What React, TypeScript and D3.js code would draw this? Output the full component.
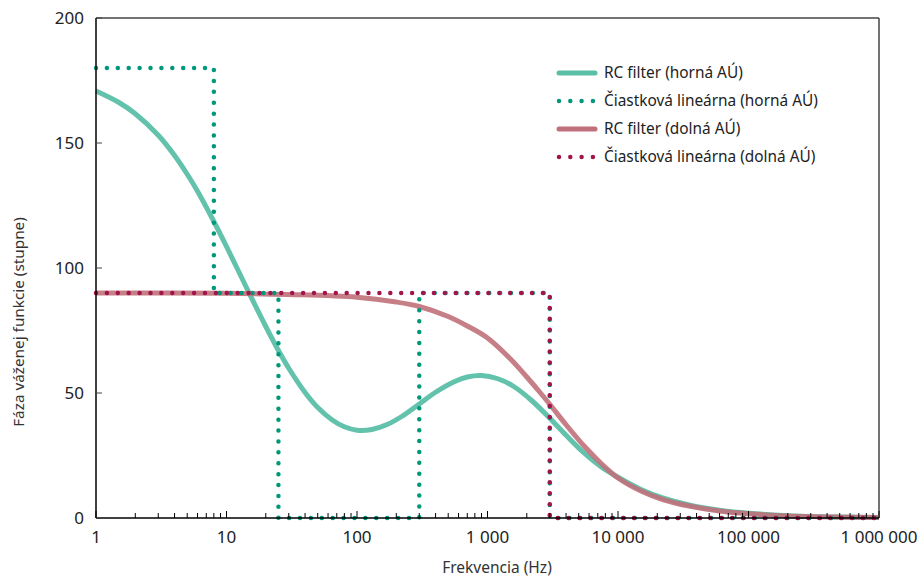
import React from "react";
import * as d3 from "d3";

const W = 920;
const H = 577;
const M = { left: 96, right: 41, top: 18, bottom: 59 };

const xTicks = [1, 10, 100, 1000, 10000, 100000, 1000000];
const xTickLabels = ["1", "10", "100", "1 000", "10 000", "100 000", "1 000 000"];
const yTicks = [0, 50, 100, 150, 200];

// RC filter (horná AÚ)
const greenRcFreq = [1, 1.5, 2, 3, 4, 5, 6, 8, 10, 12, 15, 20, 25, 30, 40, 50, 65, 80, 100, 130, 170, 220, 300, 400, 550, 700, 900, 1200, 1600, 2200, 3000, 4000, 5500, 7500, 10000, 15000, 22000, 35000, 60000, 100000, 200000, 500000, 1000000];
const greenRcPhase = [170.8, 166.2, 161.7, 153.1, 145, 137.5, 130.7, 118.6, 108.6, 100.1, 89.7, 76.6, 67, 59.9, 50.2, 44.2, 39.1, 36.5, 35.1, 35.4, 37.4, 40.6, 45.6, 50.3, 54.4, 56.4, 57, 55.7, 52.5, 46.8, 39.9, 33.1, 26, 20.3, 16.3, 11.4, 8, 5.2, 3.1, 1.9, 0.95, 0.4, 0.2];

// Čiastková lineárna (horná AÚ)
const greenStepFreq = [1, 8, 8, 25, 25, 300, 300, 3000, 3000, 1000000];
const greenStepPhase = [180, 180, 90, 90, 0, 0, 90, 90, 0, 0];

// RC filter (dolná AÚ)
const redRcFreq = [1, 10, 30, 100, 200, 300, 500, 700, 1000, 1500, 2000, 2500, 3000, 4000, 5500, 7500, 10000, 15000, 22000, 35000, 60000, 100000, 200000, 500000, 1000000];
const redRcPhase = [90, 89.9, 89.4, 88.3, 86.4, 84.6, 80.6, 76.8, 72, 63.6, 56.4, 50.5, 45.5, 37.3, 28.8, 21.6, 16, 10.8, 7.4, 4.8, 2.8, 1.7, 0.85, 0.35, 0.17];

// Čiastková lineárna (dolná AÚ)
const redStepFreq = [1, 3000, 3000, 1000000];
const redStepPhase = [90, 90, 0, 0];

const seriesNames = [
  "RC filter (horná AÚ)",
  "Čiastková lineárna (horná AÚ)",
  "RC filter (dolná AÚ)",
  "Čiastková lineárna (dolná AÚ)",
];

const C_GREEN_SOLID = "#5bbfa6";
const C_GREEN_DOT = "#00987a";
const C_RED_SOLID = "#c0707a";
const C_RED_DOT = "#a0154b";
const FONT = "'Noto Sans', 'Open Sans', sans-serif";

export default function App() {
  const x = d3.scaleLog().domain([1, 1000000]).range([M.left, W - M.right]);
  const y = d3.scaleLinear().domain([0, 200]).range([H - M.bottom, M.top]);

  const zip = (fs: number[], vs: number[]) => fs.map((f, i) => [f, vs[i]] as [number, number]);
  const smooth = d3
    .line<[number, number]>()
    .x((d) => x(d[0]))
    .y((d) => y(d[1]))
    .curve(d3.curveCatmullRom.alpha(0.5));
  const straight = d3
    .line<[number, number]>()
    .x((d) => x(d[0]))
    .y((d) => y(d[1]));

  const minorTicks: number[] = [];
  for (let e = 0; e < 6; e++) {
    for (let k = 2; k <= 9; k++) minorTicks.push(k * Math.pow(10, e));
  }

  const x0 = M.left;
  const x1 = W - M.right;
  const y0 = H - M.bottom;
  const y1 = M.top;

  const dotStyle = { strokeWidth: 4.5, strokeDasharray: "0 10.9", strokeLinecap: "round" as const, fill: "none" };

  const legendX = 557;
  const legendY = [73, 101, 129, 157];

  return (
    <svg width={W} height={H} style={{ position: "absolute", left: 0, top: 0 }} fontFamily={FONT}>
      <rect x={0} y={0} width={W} height={H} fill="#fff" />
      {/* frame */}
      <line x1={x0} y1={y1} x2={x1} y2={y1} stroke="#444" strokeWidth={1.5} />
      <line x1={x1} y1={y1} x2={x1} y2={y0} stroke="#444" strokeWidth={1.5} />

      {/* series */}
      <path d={smooth(zip(greenRcFreq, greenRcPhase)) || ""} stroke={C_GREEN_SOLID} strokeWidth={5} fill="none" opacity={0.95} />
      <path d={smooth(zip(redRcFreq, redRcPhase)) || ""} stroke={C_RED_SOLID} strokeWidth={5} fill="none" opacity={0.9} />
      <path d={straight(zip(greenStepFreq, greenStepPhase)) || ""} stroke={C_GREEN_DOT} {...dotStyle} />
      <path d={straight(zip(redStepFreq, redStepPhase)) || ""} stroke={C_RED_DOT} {...dotStyle} />

      {/* axes */}
      <line x1={x0} y1={y1} x2={x0} y2={y0} stroke="#000" strokeWidth={1.5} />
      <line x1={x0} y1={y0} x2={x1} y2={y0} stroke="#000" strokeWidth={1.5} />
      {minorTicks.map((t) => (
        <line key={"m" + t} x1={x(t)} x2={x(t)} y1={y0} y2={y0 - 5} stroke="#000" strokeWidth={1} />
      ))}
      {xTicks.map((t, i) => (
        <g key={"x" + t}>
          <line x1={x(t)} x2={x(t)} y1={y0} y2={y0 - 7} stroke="#000" strokeWidth={1} />
          <text x={x(t)} y={y0 + 25} textAnchor="middle" fontSize={17} fill="#222">
            {xTickLabels[i]}
          </text>
        </g>
      ))}
      {yTicks.map((t) => (
        <g key={"y" + t}>
          <line x1={x0} x2={x0 + 6} y1={y(t)} y2={y(t)} stroke="#444" strokeWidth={1} />
          <text x={84} y={y(t) + 6} textAnchor="end" fontSize={17} fill="#222">
            {t}
          </text>
        </g>
      ))}

      <text x={497} y={573} textAnchor="middle" fontSize={15.5} fill="#333">
        Frekvencia (Hz)
      </text>
      <text transform={`translate(24,322) rotate(-90)`} textAnchor="middle" fontSize={15.3} fill="#333">
        Fáza váženej funkcie (stupne)
      </text>

      {/* legend */}
      {seriesNames.map((name, i) => {
        const ly = legendY[i];
        const isDot = i % 2 === 1;
        const col = [C_GREEN_SOLID, C_GREEN_DOT, C_RED_SOLID, C_RED_DOT][i];
        return (
          <g key={name}>
            {isDot ? (
              <line x1={legendX + 2} x2={legendX + 38} y1={ly} y2={ly} stroke={col} {...dotStyle} strokeDasharray="0 11.3" />
            ) : (
              <line x1={legendX + 2} x2={legendX + 38} y1={ly} y2={ly} stroke={col} strokeWidth={5} strokeLinecap="round" />
            )}
            <text x={604} y={ly + 5} fontSize={15.4} fill="#222">
              {name}
            </text>
          </g>
        );
      })}
    </svg>
  );
}
